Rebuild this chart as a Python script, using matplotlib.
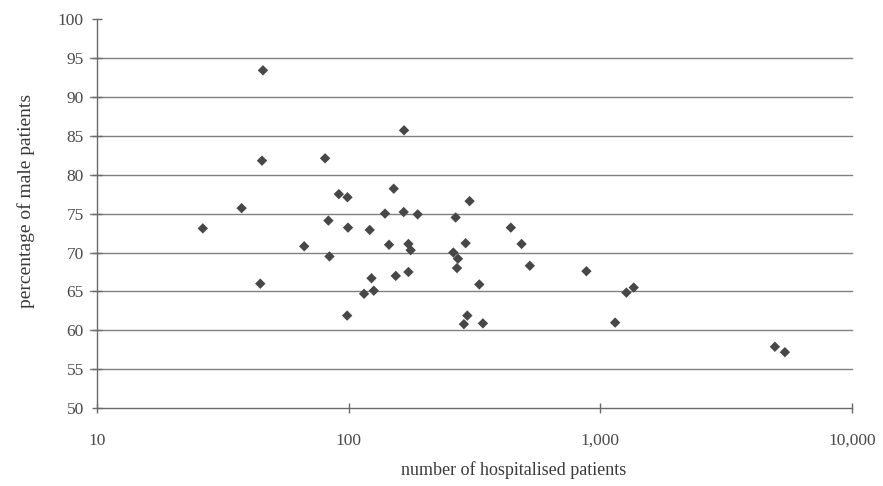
import numpy as np
import matplotlib
matplotlib.use("Agg")
import matplotlib.pyplot as plt
from matplotlib.ticker import FixedLocator, FuncFormatter

# hospital data
n_patients = [26.3, 37.5, 45.6, 45.2, 44.5, 66.5, 80.5, 165.8, 91.3, 98.8,
              150.9, 302, 139.3, 165.3, 187.8, 265.9, 83.0, 99.3, 121.1, 440.6,
              144.5, 172.6, 176.2, 291.3, 485.9, 83.8, 260.3, 271.5, 524.1, 123.1,
              153.7, 172.6, 269.1, 330.1, 115.0, 125.7, 98.5, 295.8, 286.7, 341.2,
              879.7, 1268, 1356, 1144, 4935, 5407]
pct_male = [73.1, 75.7, 93.4, 81.8, 66.0, 70.8, 82.1, 85.7, 77.5, 77.1,
            78.2, 76.6, 75.0, 75.2, 74.9, 74.5, 74.1, 73.2, 72.9, 73.2,
            71.0, 71.1, 70.3, 71.2, 71.1, 69.5, 70.0, 69.2, 68.3, 66.7,
            67.0, 67.5, 68.0, 65.9, 64.7, 65.1, 61.9, 61.9, 60.8, 60.9,
            67.6, 64.85, 65.5, 61.0, 57.9, 57.2]

y_ticks = [50, 55, 60, 65, 70, 75, 80, 85, 90, 95, 100]
x_ticks = [10, 100, 1000, 10000]

plt.rcParams['font.family'] = ['Liberation Serif', 'DejaVu Serif']

fig = plt.figure(figsize=(8.83, 4.86), dpi=100)
ax = fig.add_axes([0.110, 0.160, 0.855, 0.801])

# horizontal gridlines (skip 50 = axis, 100 = top), starting a bit left of the axis
for v in y_ticks[1:-1]:
    ax.axhline(v, xmin=-0.01, xmax=1.0, color='#808080', linewidth=1.0,
               zorder=1, clip_on=False)

ax.scatter(n_patients, pct_male, marker='D', s=28, color='#474747',
           edgecolors='none', zorder=3)

ax.set_xscale('log')
ax.set_xlim(10, 10000)
ax.set_ylim(50, 100)
ax.xaxis.set_major_locator(FixedLocator(x_ticks))
ax.xaxis.set_minor_locator(FixedLocator([]))
ax.xaxis.set_major_formatter(FuncFormatter(lambda v, p: f"{int(round(v)):,}"))
ax.yaxis.set_major_locator(FixedLocator(y_ticks))

for s in ['top', 'right']:
    ax.spines[s].set_visible(False)
for s in ['left', 'bottom']:
    ax.spines[s].set_color('#6a6a6a')
    ax.spines[s].set_linewidth(1.0)

ax.tick_params(axis='both', direction='inout', length=7, width=1.0,
               color='#6a6a6a', labelcolor='#4a4a4a', labelsize=12.5)
ax.tick_params(axis='x', pad=14)
ax.tick_params(axis='y', pad=6)

ax.set_xlabel('number of hospitalised patients', fontsize=13,
              color='#3a3a3a', labelpad=10)
ax.xaxis.set_label_coords(0.552, -0.135)
ax.set_ylabel('percentage of male patients', fontsize=14,
              color='#3a3a3a')
ax.yaxis.set_label_coords(-0.082, 0.532)

fig.savefig('out.png', dpi=100, facecolor='white')
